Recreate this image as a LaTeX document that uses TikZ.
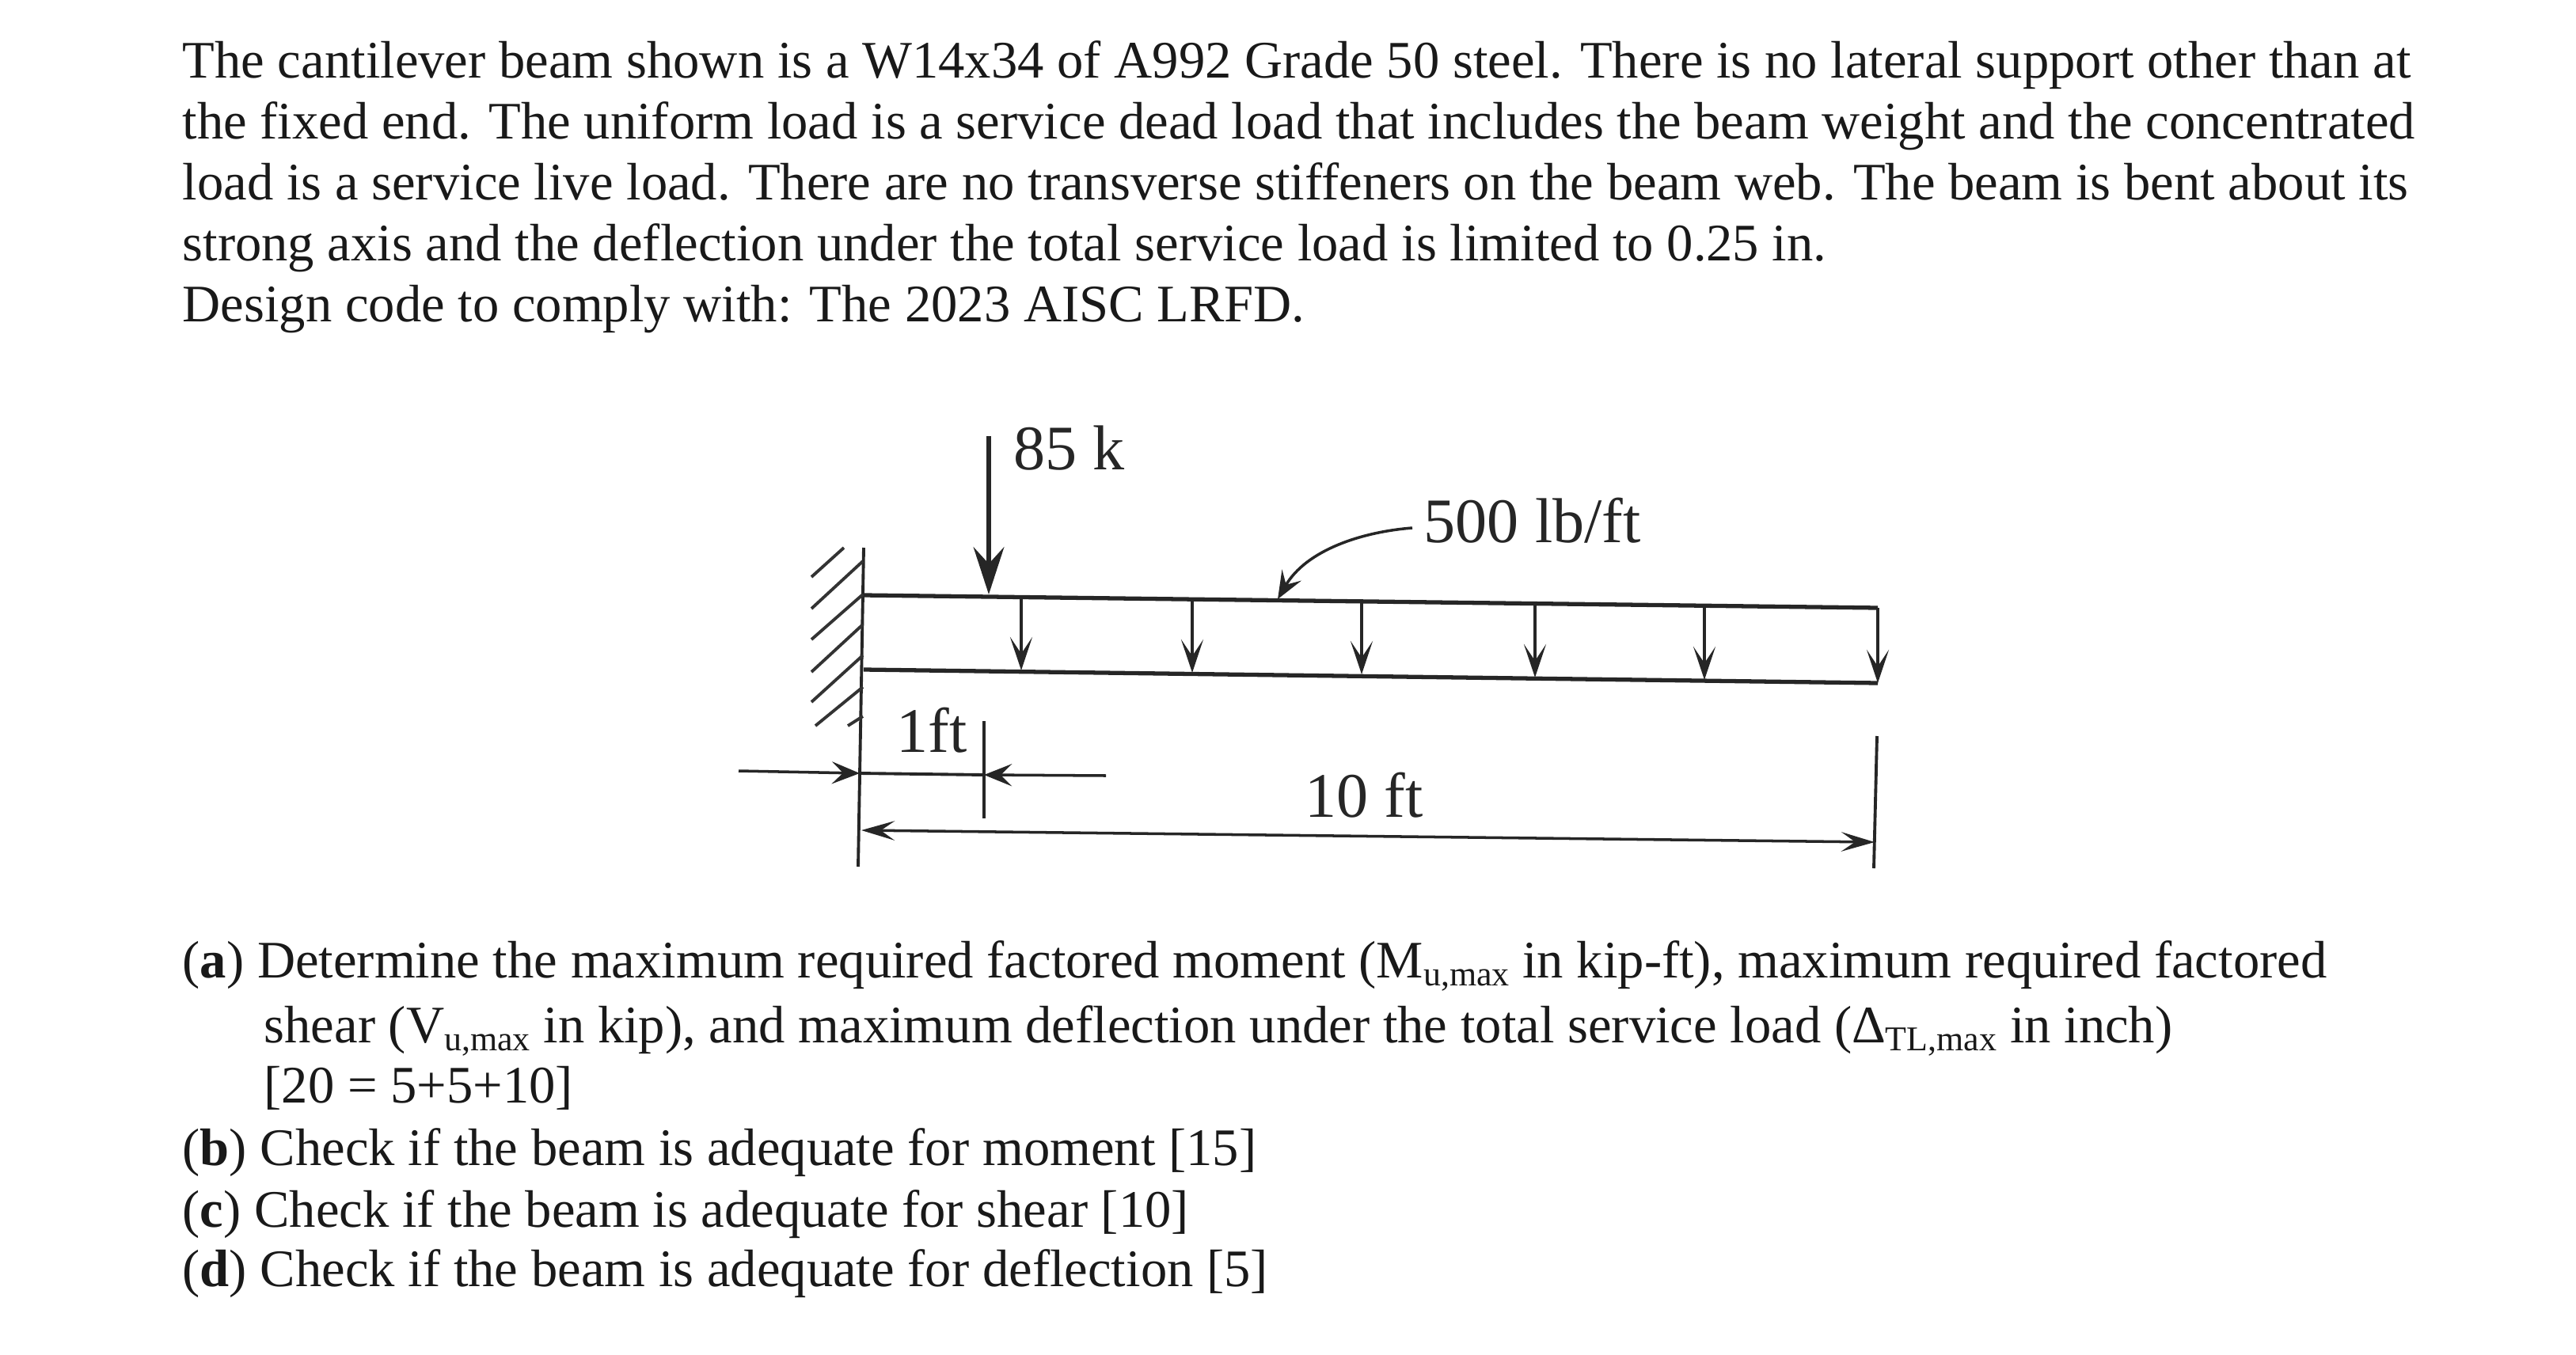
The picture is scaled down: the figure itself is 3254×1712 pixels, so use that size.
\documentclass[tikz,border=0pt]{standalone}
\usepackage{fontspec}
\setmainfont{Liberation Serif}
\usetikzlibrary{arrows.meta, positioning}
\newcommand{\lowtxt}[1]{\raisebox{-0.35ex}{\fontsize{12.5}{15}\selectfont #1}}
\tikzset{
  para/.style={anchor=base west, inner sep=0pt, font=\fontsize{18.95}{24}\selectfont, text=black!90},
  lbl/.style={anchor=base west, inner sep=0pt, font=\fontsize{22.8}{26}\selectfont, text=black!85},
  member/.style={line width=1.5pt, black!85},
  thin line/.style={line width=1.1pt, black!85},
  hatch/.style={line width=1.1pt, black!80},
  load/.style={line width=1pt, black!85, -{Stealth[length=12pt, width=8pt, inset=6pt]}},
  force/.style={line width=1.7pt, black!85, -{Stealth[length=17pt, width=11pt, inset=6pt]}},
  dim/.style={line width=1pt, black!85, -{Stealth[length=10pt, width=8pt, inset=4pt]}},
  span/.style={line width=1pt, black!85, {Stealth[length=12pt, width=7pt, inset=5pt]}-{Stealth[length=12pt, width=7pt, inset=5pt]}}
}

\begin{document}
\begin{tikzpicture}[x=0.01cm, y=-0.01cm]
  \useasboundingbox (0,0) rectangle (3254,1712);
  % problem statement
  \node[para] (l1) at (230,98) {The cantilever beam shown is a W14x34 of A992 Grade 50 steel. There is no lateral support other than at};
  \node[para] (l2) at (230,175) {the fixed end. The uniform load is a service dead load that includes the beam weight and the concentrated};
  \node[para] (l3) at (230,252) {load is a service live load. There are no transverse stiffeners on the beam web. The beam is bent about its};
  \node[para] (l4) at (230,329) {strong axis and the deflection under the total service load is limited to 0.25 in.};
  \node[para] (l5) at (230,406) {Design code to comply with: The 2023 AISC LRFD.};
  % wall and beam
  \coordinate (walltop) at (1091,692);
  \coordinate (wallbot) at (1084,1095);
  \draw[thin line] (walltop) -- (wallbot);
  \foreach \xa/\ya/\xb/\yb in {1025/729/1066/692, 1025/769/1090/709, 1025/808/1090/751, 1025/849/1090/789, 1025/887/1090/828, 1030/917/1090/868, 1071/917/1090/905}
    \draw[hatch] (\xa,\ya) -- (\xb,\yb);
  \coordinate (topleft) at (1091,752);
  \coordinate (topright) at (2372,768);
  \coordinate (botleft) at (1091,846);
  \coordinate (botright) at (2372,863);
  \draw[member] (topleft) -- (topright);
  \draw[member] (botleft) -- (botright);
  \foreach \i/\x/\ya/\yb in {1/1290/757/847, 2/1506/757/850, 3/1720/760/852, 4/1939/763/856, 5/2153/766/859, 6/2372/768/863} {
    \coordinate (top\i) at (\x,\ya);
    \coordinate (bot\i) at (\x,\yb);
    \draw[load] (top\i) -- (bot\i);
  }
  % point load
  \node[lbl] (pointlbl) at (1280,593) {85 k};
  \coordinate (pointtop) at (1249,551);
  \coordinate (pointtip) at (1249,751);
  \draw[force] (pointtop) -- (pointtip);
  % uniform load
  \node[lbl] (unilbl) at (1798,685) {500 lb/ft};
  \coordinate (unistart) at (1784,667);
  \coordinate (unitip) at (1614,757);
  \draw[dim] (unistart) .. controls (1720,672) and (1650,695) .. (unitip);
  % dimensions
  \node[lbl] (onelbl) at (1132,950) {1ft};
  \node[lbl] (tenlbl) at (1648,1032) {10 ft};
  \coordinate (tick1a) at (1243,911);
  \coordinate (tick1b) at (1243,1034);
  \coordinate (tick2a) at (2371,930);
  \coordinate (tick2b) at (2367,1097);
  \draw[thin line] (tick1a) -- (tick1b);
  \draw[thin line] (tick2a) -- (tick2b);
  \coordinate (ftleft) at (933,974);
  \coordinate (ftwall) at (1086,977);
  \coordinate (ftmid) at (1243,979);
  \coordinate (ftright) at (1397,980);
  \draw[dim] (ftleft) -- (ftwall);
  \draw[thin line] (ftwall) -- (ftmid);
  \draw[dim] (ftright) -- (ftmid);
  \coordinate (spanleft) at (1088,1049);
  \coordinate (spanright) at (2368,1064);
  \draw[span] (spanleft) -- (spanright);
  % questions
  \node[para] (qa) at (230,1235) {(\textbf{a}) Determine the maximum required factored moment (M\lowtxt{u,max} in kip-ft), maximum required factored};
  \node[para] (qa2) at (333,1317) {shear (V\lowtxt{u,max} in kip), and maximum deflection under the total service load (Δ\lowtxt{TL,max} in inch)};
  \node[para] (qa3) at (333,1393) {[20 = 5+5+10]};
  \node[para] (qb) at (230,1472) {(\textbf{b}) Check if the beam is adequate for moment [15]};
  \node[para] (qc) at (230,1550) {(\textbf{c}) Check if the beam is adequate for shear [10]};
  \node[para] (qd) at (230,1625) {(\textbf{d}) Check if the beam is adequate for deflection [5]};
\end{tikzpicture}
\end{document}
